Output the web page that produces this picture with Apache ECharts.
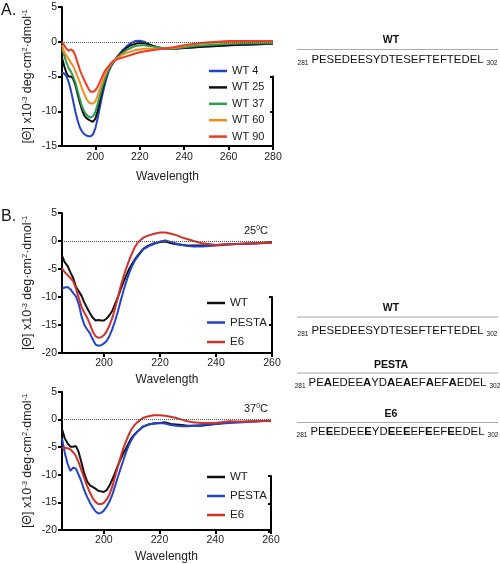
<!DOCTYPE html>
<html><head><meta charset="utf-8">
<script src="https://cdn.jsdelivr.net/npm/echarts@6/dist/echarts.min.js"></script>
<style>html,body{margin:0;padding:0;background:#fff}#c{width:500px;height:564px}</style>
</head><body><div id="c"></div>
<script>
// ---------- Data ----------
const wlA = [185,186,187,188,189,190,191,192,193,194,195,196,197,198,199,200,201,202,203,204,205,206,207,208,209,210,212,214,216,218,220,222,224,226,228,230,235,240,245,250,255,260,270,280];
const wt4  = [-4.4,-4.6,-5.0,-5.8,-7.0,-8.5,-10.0,-11.3,-12.3,-12.9,-13.3,-13.5,-13.6,-13.6,-13.3,-12.5,-11.1,-9.5,-7.9,-6.5,-5.3,-4.3,-3.6,-3.1,-2.6,-2.1,-1.3,-0.7,-0.2,0.1,0.15,0.0,-0.3,-0.6,-0.8,-1.0,-1.0,-0.9,-0.8,-0.7,-0.6,-0.5,-0.4,-0.3];
const wt25 = [-2.3,-3.5,-4.5,-5.0,-5.0,-5.3,-6.2,-7.5,-8.7,-9.8,-10.6,-11.0,-11.2,-11.4,-11.5,-11.1,-10.0,-8.6,-7.2,-5.9,-4.8,-4.0,-3.4,-2.9,-2.6,-2.2,-1.5,-0.9,-0.5,-0.3,-0.15,-0.2,-0.4,-0.6,-0.8,-0.9,-1.0,-0.9,-0.8,-0.7,-0.6,-0.5,-0.4,-0.3];
const wt37 = [-1.0,-2.0,-3.0,-3.8,-4.3,-5.0,-5.8,-7.0,-8.2,-9.3,-10.0,-10.5,-10.8,-10.9,-10.7,-10.1,-9.0,-7.8,-6.6,-5.6,-4.7,-4.0,-3.4,-2.9,-2.6,-2.3,-1.7,-1.2,-0.9,-0.6,-0.5,-0.5,-0.6,-0.7,-0.8,-0.9,-1.0,-0.8,-0.6,-0.5,-0.4,-0.3,-0.2,-0.2];
const wt60 = [-0.5,-1.5,-2.0,-2.5,-3.0,-3.5,-4.2,-5.0,-5.8,-6.7,-7.5,-8.2,-8.7,-8.9,-8.9,-8.6,-7.8,-6.8,-5.9,-5.0,-4.3,-3.7,-3.2,-2.9,-2.6,-2.3,-1.9,-1.6,-1.4,-1.2,-1.1,-1.0,-1.0,-1.0,-1.0,-1.0,-0.9,-0.6,-0.3,-0.2,-0.1,-0.1,0.0,0.0];
const wt90 = [0.0,-0.5,-1.0,-1.3,-1.1,-1.3,-2.0,-3.0,-4.0,-4.8,-5.5,-6.2,-6.8,-7.2,-7.2,-7.0,-6.5,-5.8,-5.1,-4.4,-3.9,-3.5,-3.1,-2.8,-2.6,-2.5,-2.3,-2.1,-1.9,-1.7,-1.5,-1.4,-1.3,-1.2,-1.1,-1.0,-0.8,-0.5,-0.3,-0.1,0.0,0.1,0.1,0.1];
const namesA = ['WT 4','WT 25','WT 37','WT 60','WT 90'];
const ticksA = [200,220,240,260,280];

const wlB = [185,186,187,188,189,190,191,192,193,194,195,196,197,198,199,200,201,202,203,204,205,206,207,208,209,210,211,212,214,216,218,220,222,224,226,228,230,232,235,240,245,250,255,260];
const b25WT    = [-2.6,-3.8,-4.5,-5.6,-6.6,-8.2,-9.0,-9.8,-11.0,-12.0,-12.9,-13.7,-14.2,-14.1,-14.2,-14.2,-13.8,-13.2,-12.4,-11.2,-10.0,-8.6,-7.3,-6.1,-5.0,-4.1,-3.3,-2.6,-1.4,-0.8,-0.4,-0.2,-0.1,-0.4,-0.6,-0.7,-0.8,-0.8,-0.8,-0.7,-0.6,-0.5,-0.4,-0.2];
const b25PESTA = [-8.5,-8.3,-8.2,-8.6,-9.3,-9.9,-11.3,-13.5,-15.0,-15.8,-16.5,-17.6,-18.5,-18.7,-18.6,-18.3,-17.8,-16.9,-15.7,-14.2,-12.5,-10.6,-8.8,-7.2,-5.7,-4.5,-3.5,-2.8,-1.5,-0.9,-0.5,-0.1,0.1,-0.2,-0.5,-0.7,-0.9,-1.0,-1.0,-0.8,-0.6,-0.5,-0.4,-0.3];
const b25E6    = [-4.9,-5.6,-6.1,-6.6,-7.2,-8.5,-10.2,-11.8,-12.8,-13.7,-14.9,-16.2,-17.0,-17.3,-17.2,-16.8,-16.1,-15.0,-13.7,-11.9,-10.0,-8.0,-6.3,-4.8,-3.4,-2.2,-1.1,-0.3,0.6,1.0,1.3,1.5,1.5,1.3,1.0,0.6,0.3,0.0,-0.4,-0.7,-0.6,-0.5,-0.4,-0.3];
const b37WT    = [-1.7,-3.4,-4.3,-4.9,-4.9,-4.8,-5.9,-7.8,-9.8,-11.2,-11.9,-12.2,-12.5,-12.9,-13.0,-13.1,-12.8,-12.0,-10.9,-9.7,-8.4,-7.2,-6.1,-5.2,-4.2,-3.3,-2.7,-2.2,-1.3,-0.9,-0.7,-0.6,-0.5,-0.8,-0.9,-1.0,-1.1,-1.1,-1.1,-0.8,-0.5,-0.4,-0.3,-0.2];
const b37PESTA = [-3.4,-6.0,-8.0,-9.3,-8.7,-8.9,-10.0,-11.3,-12.8,-14.0,-15.0,-15.9,-16.6,-17.0,-16.9,-16.5,-15.8,-14.9,-13.7,-12.1,-10.5,-8.9,-7.4,-5.9,-4.6,-3.6,-2.8,-2.2,-1.3,-0.9,-0.7,-0.6,-0.7,-1.0,-1.1,-1.2,-1.2,-1.1,-1.0,-0.8,-0.6,-0.5,-0.3,-0.2];
const b37E6    = [-5.2,-5.1,-5.2,-5.4,-5.9,-6.6,-7.8,-9.2,-10.6,-12.0,-13.2,-14.2,-14.9,-15.3,-15.3,-15.1,-14.5,-13.6,-12.2,-10.4,-8.6,-6.8,-5.2,-3.9,-2.7,-1.7,-1.0,-0.5,0.3,0.6,0.8,0.8,0.7,0.5,0.3,0.0,-0.3,-0.5,-0.6,-0.6,-0.3,-0.4,-0.3,-0.2];
const namesB = ['WT','PESTA','E6'];
const ticksB = [200,220,240,260];

const seqWT    = 'PESEDEESYDTESEFTEFTEDEL';
const seqPESTA = 'PEAEDEEAYDAEAEFAEFAEDEL';
const seqE6    = 'PEEEDEEEYDEEEEFEEFEEDEL';
const seqStart = '281', seqEnd = '302';

// ---------- Styling ----------
const FONT = 'Liberation Sans, Arial, Helvetica, sans-serif';
const colA = ['#2443c9','#111111','#2e9e4c','#f58a1f','#ee3c25'];
const colB = ['#111111','#2443c9','#d2312a'];
const yNameRich = {
  a:{fontSize:12.5, fontFamily:FONT, color:'#222', lineHeight:14},
  s:{fontSize:7.5, fontFamily:FONT, color:'#222', verticalAlign:'top', lineHeight:14}
};
const yName = '{a|[Θ] x10}{s|-3}{a| deg·cm}{s|2}{a|·dmol}{s|-1}';

function mainX(grid, min, max, ticks){
  return {gridIndex:grid, type:'value', min:min, max:max,
    name:'Wavelength', nameLocation:'middle', nameGap:grid===0?25:21,
    nameTextStyle:{fontSize:12, fontFamily:FONT, color:'#222'},
    axisLine:{onZero:false, lineStyle:{color:'#000', width:2}},
    axisTick:{customValues:ticks, length:4, lineStyle:{color:'#000', width:2}},
    axisLabel:{customValues:ticks, fontSize:10.5, fontFamily:FONT, color:'#222', margin:grid===0?6:5},
    splitLine:{show:false}};
}
function mainY(grid, min, max){
  return {gridIndex:grid, type:'value', min:min, max:max, interval:5,
    name:yName, nameLocation:'middle', nameGap:27,
    nameTextStyle:{rich:yNameRich},
    axisLine:{show:true, lineStyle:{color:'#000', width:2}},
    axisTick:{show:true, length:4, lineStyle:{color:'#000', width:2}},
    axisLabel:{fontSize:10.5, fontFamily:FONT, color:'#222', margin:5},
    splitLine:{show:false}};
}
function sideX(grid, min, max){
  return {gridIndex:grid, type:'value', min:min, max:max, show:false};
}
function sideY(grid, min, max){
  return {gridIndex:grid, type:'value', min:min, max:max, interval:5, position:'right',
    axisLine:{show:true, lineStyle:{color:'#000', width:2}},
    axisTick:{show:true, inside:true, length:3, lineStyle:{color:'#000', width:2}},
    axisLabel:{show:false}, splitLine:{show:false}};
}
function zeroLine(){
  return {silent:true, symbol:['none','none'], label:{show:false},
    lineStyle:{type:'dotted', color:'#555', width:1}, data:[{yAxis:0}]};
}
function mkSeries(name, wl, vals, color, xi, yi, withZero){
  const s = {name:name, type:'line', xAxisIndex:xi, yAxisIndex:yi, showSymbol:false, symbol:'none',
    data: wl.map((w,i)=>[w, vals[i]]), lineStyle:{color:color, width:2}, itemStyle:{color:color},
    z: 3};
  if (withZero) s.markLine = zeroLine();
  return s;
}

const series = [];
const dataA = [wt4, wt25, wt37, wt60, wt90];
namesA.forEach((n,i)=>series.push(mkSeries(n, wlA, dataA[i], colA[i], 0, 0, i===0)));
const data25 = [b25WT, b25PESTA, b25E6];
const data37 = [b37WT, b37PESTA, b37E6];
namesB.forEach((n,i)=>series.push(mkSeries(n, wlB, data25[i], colB[i], 2, 2, i===0)));
namesB.forEach((n,i)=>series.push(mkSeries(n, wlB, data37[i], colB[i], 4, 4, i===0)));

function legend(names, left, top, gap, fs){
  return {data:names, orient:'vertical', left:left, top:top, icon:'rect',
    itemWidth:18, itemHeight:2.5, itemGap:gap, itemTextGap:7, selectedMode:false,
    textStyle:{fontSize:fs, fontFamily:FONT, color:'#222', lineHeight:14}};
}

function seqText(seq){
  let out = '{n1|' + seqStart + '}';
  let cur = '', bold = null;
  for (let i=0;i<seq.length;i++){
    const b = seq[i] !== seqWT[i];
    if (bold === null) bold = b;
    if (b !== bold){ out += '{' + (bold?'b':'r') + '|' + cur + '}'; cur=''; bold=b; }
    cur += seq[i];
  }
  out += '{' + (bold?'b':'r') + '|' + cur + '}';
  out += '{n2|' + seqEnd + '}';
  return out;
}
const seqRich = {
  r:{fontSize:11.4, fontFamily:FONT, fill:'#111', lineHeight:14},
  b:{fontSize:11.4, fontFamily:FONT, fontWeight:'bold', fill:'#111', lineHeight:14},
  n1:{fontSize:6.5, fontFamily:FONT, fill:'#111', verticalAlign:'bottom', lineHeight:14, padding:[0,3,0,0]},
  n2:{fontSize:6.5, fontFamily:FONT, fill:'#111', verticalAlign:'bottom', lineHeight:14, padding:[0,0,0,3]}
};
function panel(title, seq, yHead, yLine, ySeq){
  return [
    {type:'text', style:{text:title, x:391, y:yHead, align:'center', verticalAlign:'middle',
      font:'bold 10.5px '+FONT, fill:'#111'}},
    {type:'line', shape:{x1:297, y1:yLine, x2:498, y2:yLine}, style:{stroke:'#aaa', lineWidth:1}},
    {type:'text', style:{text:seqText(seq), rich:seqRich, x:397.5, y:ySeq, align:'center', verticalAlign:'middle'}}
  ];
}
const tempRich = {
  a:{fontSize:11, fontFamily:FONT, fill:'#222', lineHeight:13},
  s:{fontSize:7, fontFamily:FONT, fill:'#222', verticalAlign:'top', lineHeight:13}
};

const graphic = [
  {type:'text', style:{text:'A.', x:1, y:11, verticalAlign:'middle', font:'16px '+FONT, fill:'#111'}},
  {type:'text', style:{text:'B.', x:1, y:217, verticalAlign:'middle', font:'16px '+FONT, fill:'#111'}},
  {type:'text', style:{text:'{a|25}{s|0}{a|C}', rich:tempRich, x:268, y:231, align:'right', verticalAlign:'middle'}},
  {type:'text', style:{text:'{a|37}{s|0}{a|C}', rich:tempRich, x:268, y:409, align:'right', verticalAlign:'middle'}}
].concat(panel('WT', seqWT, 40, 49.5, 60))
 .concat(panel('WT', seqWT, 308, 317, 331))
 .concat(panel('PESTA', seqPESTA, 365, 373, 383))
 .concat(panel('E6', seqE6, 414, 422.5, 432));

const option = {
  animation:false,
  backgroundColor:'#fff',
  grid:[
    {left:62, top:7, width:211, height:139},
    {left:62, top:76.5, width:211, height:69.5},
    {left:62, top:213, width:210, height:140},
    {left:62, top:297, width:210, height:56},
    {left:62, top:392, width:209, height:140},
    {left:62, top:476, width:209, height:56}
  ],
  xAxis:[mainX(0,185,280,ticksA), sideX(1,185,280), mainX(2,185,260,ticksB), sideX(3,185,260), mainX(4,185,260,ticksB), sideX(5,185,260)],
  yAxis:[mainY(0,-15,5), sideY(1,-15,-5), mainY(2,-20,5), sideY(3,-20,-10), mainY(4,-20,5), sideY(5,-20,-10)],
  legend:[
    legend(namesA, 204, 59, 2.4, 11),
    legend(namesB, 202, 291, 5.5, 11.5),
    legend(namesB, 202, 465, 5, 11.5)
  ],
  series:series,
  graphic:graphic
};
const chart = echarts.init(document.getElementById('c'), null, {renderer:'canvas'});
chart.setOption(option);
</script></body></html>
